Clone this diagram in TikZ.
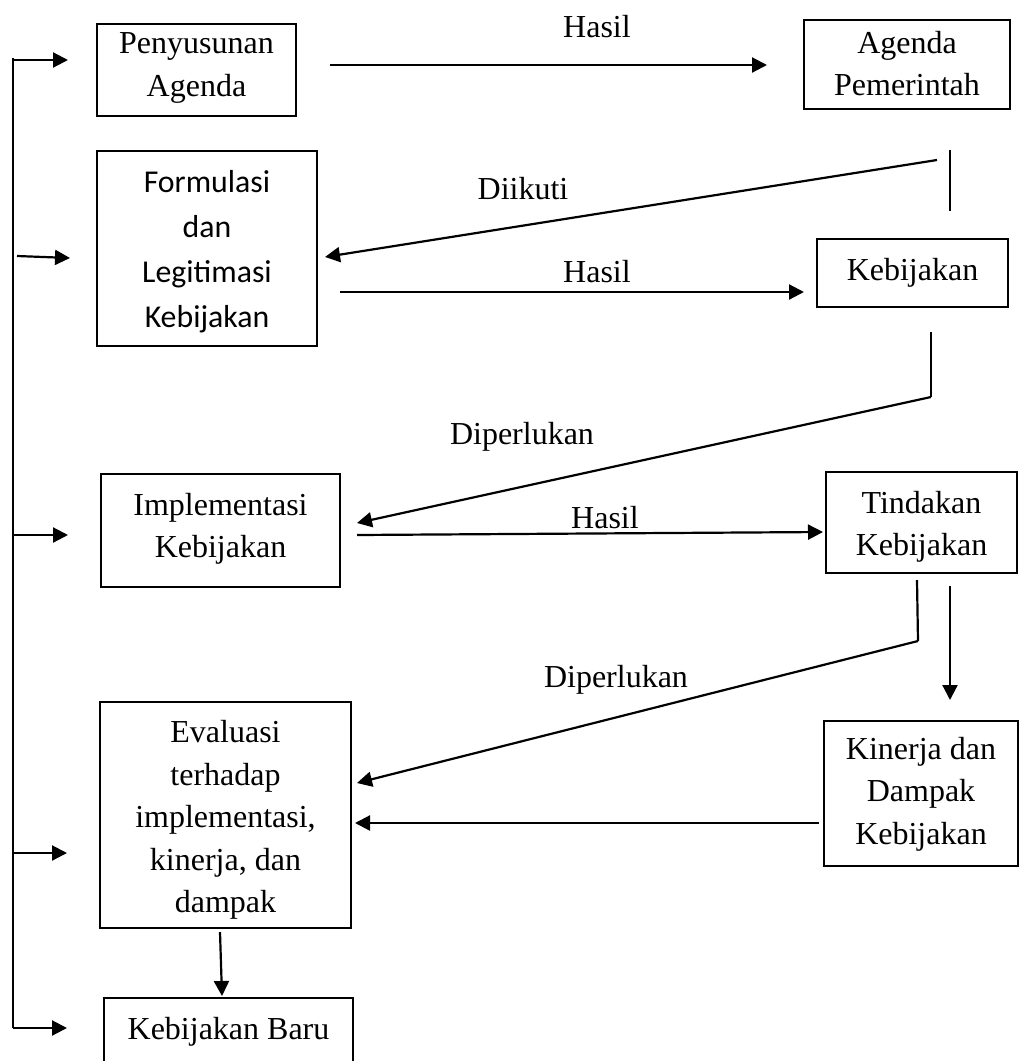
\documentclass[tikz,border=0pt]{standalone}
\usepackage{fontspec}
\setmainfont{Liberation Serif}
\newfontfamily\calibri{Carlito}
\usetikzlibrary{arrows.meta}
\begin{document}
\begin{tikzpicture}[x=0.5pt,y=-0.5pt,
  box/.style={draw,line width=1pt,inner sep=0pt},
  txt/.style={align=center,inner sep=0pt,font=\fontsize{16pt}{21.2pt}\selectfont},
  stxt/.style={align=center,inner sep=0pt,font=\calibri\fontsize{15.9pt}{22.5pt}\selectfont},
  lbl/.style={inner sep=0pt,font=\fontsize{16pt}{21pt}\selectfont},
  conn/.style={line width=1.1pt},
  arr/.style={line width=1.1pt,-{Triangle[length=7.5pt,width=7.5pt]}}]
\clip (0,0) rectangle (1019,1061);
\fill[white] (0,0) rectangle (1019,1061);

% boxes
\node[box,minimum width=99.5pt,minimum height=46pt] (pa) at (196.5,70) {};
\node[txt] at (196.5,68) {Penyusunan\\Agenda};
\node[box,minimum width=103pt,minimum height=44.5pt] (ap) at (907,64.5) {};
\node[txt] at (907,63.5) {Agenda\\Pemerintah};
\node[box,minimum width=110pt,minimum height=97.5pt] (fl) at (207,248.5) {};
\node[stxt] at (207,252) {Formulasi\\dan\\Legitimasi\\Kebijakan};
\node[box,minimum width=95.5pt,minimum height=34pt] (kb) at (912.5,273) {};
\node[txt] at (912.5,273) {Kebijakan};
\node[box,minimum width=119.5pt,minimum height=56.5pt] (ik) at (220.5,530.5) {};
\node[txt] at (220.5,529) {Implementasi\\Kebijakan};
\node[box,minimum width=95.5pt,minimum height=50.5pt] (tk) at (921.5,522.5) {};
\node[txt] at (921.5,527) {Tindakan\\Kebijakan};
\node[box,minimum width=97pt,minimum height=72.5pt] (kd) at (921,793.5) {};
\node[txt] at (921,794) {Kinerja dan\\Dampak\\Kebijakan};
\node[box,minimum width=125.5pt,minimum height=113pt] (ev) at (225.5,815) {};
\node[txt] at (225.5,820) {Evaluasi\\terhadap\\implementasi,\\kinerja, dan\\dampak};
\node[box,minimum width=124.5pt,minimum height=40pt] (kbb) at (228.5,1038) {};
\node[txt] at (228.5,1032) {Kebijakan Baru};

% connector end points
\coordinate (h1a) at (330,65);   \coordinate (h1b) at (767,65);
\coordinate (d1v) at (950,150);  \coordinate (d1w) at (950,211);
\coordinate (d1a) at (937,160);  \coordinate (d1b) at (325,257);
\coordinate (h2a) at (340,292);  \coordinate (h2b) at (804,292);
\coordinate (p1v) at (931,332);  \coordinate (p1a) at (931,397);
\coordinate (p1b) at (357,523);
\coordinate (h3a) at (357,535);  \coordinate (h3b) at (823,532);
\coordinate (p2v) at (917,580);  \coordinate (p2a) at (918,641);
\coordinate (p2b) at (357,783);
\coordinate (dna) at (950,586);  \coordinate (dnb) at (950,700);
\coordinate (kea) at (819,823);  \coordinate (keb) at (355,823);
\coordinate (eva) at (220,932);  \coordinate (evb) at (222,996);

% feedback bus on the left
\coordinate (b0) at (13,58);  \coordinate (b5) at (13,1028);
\draw[conn] (b0) -- (b5);
\draw[arr] (12.5,60) -- (68,60);
\draw[arr] (17,256) -- (70,258);
\draw[arr] (12.5,535) -- (68,535);
\draw[arr] (12.5,853) -- (67,853);
\draw[arr] (12.5,1028) -- (67,1028);

% flows between stages
\draw[arr] (h1a) -- (h1b);
\draw[conn] (d1v) -- (d1w);
\draw[arr] (d1a) -- (d1b);
\draw[arr] (h2a) -- (h2b);
\draw[conn] (p1v) -- (p1a);
\draw[arr] (p1a) -- (p1b);
\draw[arr] (h3a) -- (h3b);
\draw[conn] (p2v) -- (p2a);
\draw[arr] (p2a) -- (p2b);
\draw[arr] (dna) -- (dnb);
\draw[arr] (kea) -- (keb);
\draw[arr] (eva) -- (evb);

% labels
\node[lbl] (l1) at (597,27) {Hasil};
\node[lbl] (l2) at (523,189) {Diikuti};
\node[lbl] (l3) at (597,272) {Hasil};
\node[lbl] (l4) at (522,437) {Diperlukan};
\node[lbl] (l5) at (605,518) {Hasil};
\node[lbl] (l6) at (616,680) {Diperlukan};
\end{tikzpicture}
\end{document}
